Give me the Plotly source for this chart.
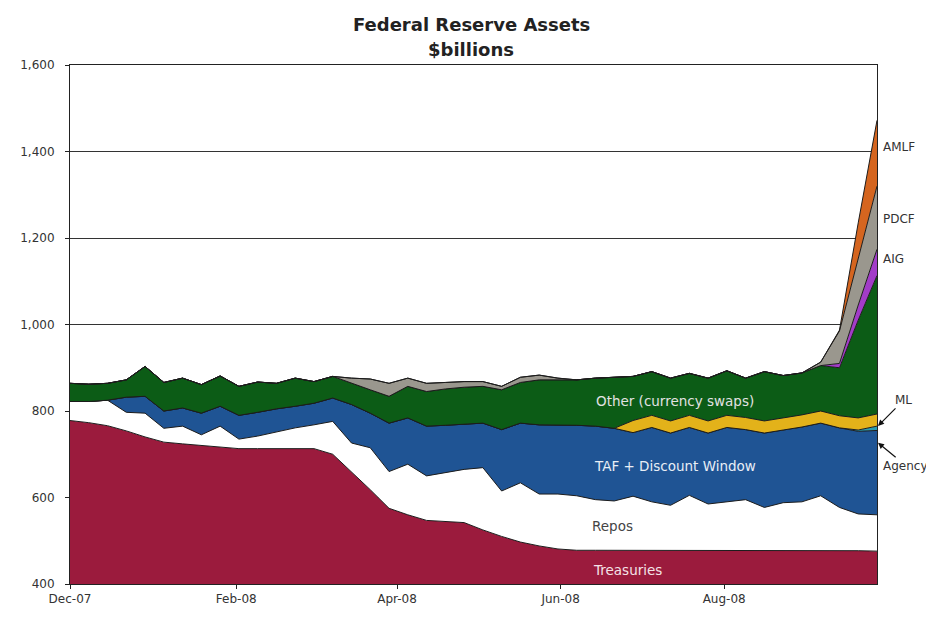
import pandas as pd
import plotly.graph_objects as go

# Weekly (Wednesday) dates, Dec 5 2007 - Oct 1 2008
dates = [d.strftime("%Y-%m-%d") for d in pd.date_range("2007-12-05", "2008-10-01", freq="7D")]

treasuries = [778, 773, 766, 754, 740, 728, 724, 720, 716, 713, 713, 713, 713, 713,
              700, 660, 618, 575, 560, 547, 545, 542, 525, 510, 497, 488, 481,
              478, 478, 478, 478, 478, 478, 478, 478, 478, 478, 478, 478, 478, 478, 478, 477, 476]
repos = [44, 49, 59, 43, 55, 32, 41, 25, 49, 22,
         29, 39, 48, 55, 76, 66, 97, 85, 117, 103,
         113, 123, 144, 105, 137, 120, 127, 126, 117, 114,
         125, 112, 104, 127, 107, 112, 117, 99, 110, 112,
         126, 99, 85, 84]
taf_dw = [0, 0, 0, 35, 39, 40, 42, 50, 46, 55,
          55, 53, 50, 50, 54, 89, 80, 112, 107, 115,
          109, 105, 103, 142, 138, 160, 160, 163, 170, 168,
          147, 172, 167, 157, 164, 172, 162, 172, 168, 173,
          168, 184, 191, 195]
agency = [0] * 42 + [3, 10]
ml = [0] * 30 + [28] * 14
other = [42, 40, 39, 40, 69, 66, 69, 66, 70, 67,
         70, 59, 65, 50, 50, 49, 54, 62, 73, 80,
         84, 85, 85, 92, 94, 104, 104, 105, 111, 118,
         102, 101, 99, 97, 99, 103, 91, 114, 98, 97,
         105, 111, 226, 320]
aig = [0] * 41 + [10, 35, 61]
pdcf = [0] * 15 + [12, 25, 30, 19, 19, 15, 13, 11, 8, 12, 11, 4] + [0] * 13 + [8, 75, 110, 146]
amlf = [0] * 41 + [2, 80, 152]

series = [
    ("Treasuries", treasuries, "#9B1B3D"),
    ("Repos", repos, "#FFFFFF"),
    ("TAF + Discount Window", taf_dw, "#1F5494"),
    ("Agency", agency, "#2A9DB0"),
    ("ML", ml, "#E3B21A"),
    ("Other (currency swaps)", other, "#0C5C16"),
    ("AIG", aig, "#A23CC8"),
    ("PDCF", pdcf, "#9A978E"),
    ("AMLF", amlf, "#D5651F"),
]

y_ticks = [400, 600, 800, 1000, 1200, 1400, 1600]
x_tickvals = ["2007-12-05", "2008-02-05", "2008-04-05", "2008-06-05", "2008-08-05"]
x_ticktext = ["Dec-07", "Feb-08", "Apr-08", "Jun-08", "Aug-08"]

fig = go.Figure()
for name, vals, col in series:
    fig.add_trace(go.Scatter(
        x=dates, y=vals, name=name, mode="lines", stackgroup="one",
        line=dict(width=1, color="#1c1c1c"), fillcolor=col, hoverinfo="skip"))

# page offset (body margin) compensation
OFF = 8
W, H = 934 - OFF, 618 - OFF
L, R, T, B = 68, 877, 65, 587  # plot area in screen px


def px(x):
    return (x - L) / (R - L)


def py(y):
    return (B - y) / (B - T)


font = "DejaVu Sans, Verdana, sans-serif"
ann = []
ann.append(dict(text="<b>Federal Reserve Assets</b>", x=px(470), y=py(24), xref="paper", yref="paper",
                xanchor="center", yanchor="middle", showarrow=False,
                font=dict(family=font, size=18, color="#222222")))
ann.append(dict(text="<b>$billions</b>", x=px(470), y=py(49), xref="paper", yref="paper",
                xanchor="center", yanchor="middle", showarrow=False,
                font=dict(family=font, size=18, color="#222222")))
inside = [
    ("Other (currency swaps)", 675, 403, "#E2E2E2"),
    ("TAF + Discount Window", 675, 468, "#E8EEF6"),
    ("Repos", 612, 529, "#444444"),
    ("Treasuries", 627, 573, "#F4E2E7"),
]
for t, x, y, c in inside:
    ann.append(dict(text=t, x=px(x), y=py(y), xref="paper", yref="paper",
                    xanchor="center", yanchor="middle",
                    showarrow=False, font=dict(family=font, size=13.5, color=c)))
for t, x, y in [("AMLF", 881, 147), ("PDCF", 881, 220), ("AIG", 881, 260)]:
    ann.append(dict(text=t, x=px(x), y=py(y), xref="paper", yref="paper",
                    xanchor="left", yanchor="middle",
                    showarrow=False, font=dict(family=font, size=12, color="#333333")))
ann.append(dict(text="ML", x=px(878), y=py(428), xref="paper", yref="paper",
                ax=26, ay=-26, showarrow=True, arrowhead=2, arrowsize=1, arrowwidth=1.2,
                arrowcolor="#111111", font=dict(family=font, size=12, color="#333333")))
ann.append(dict(text="Agency", x=px(878), y=py(445), xref="paper", yref="paper",
                ax=28, ay=23, showarrow=True, arrowhead=2, arrowsize=1, arrowwidth=1.2,
                arrowcolor="#111111", font=dict(family=font, size=12, color="#333333")))

fig.update_layout(
    width=W, height=H,
    margin=dict(l=L - OFF, r=W - (R - OFF), t=T - OFF, b=H - (B - OFF)),
    paper_bgcolor="white", plot_bgcolor="white",
    showlegend=False,
    annotations=ann,
    xaxis=dict(type="date", range=[dates[0], dates[-1]], tickvals=x_tickvals, ticktext=x_ticktext,
               showgrid=False, showline=True, linecolor="#222222", linewidth=1, mirror=True,
               ticks="outside", ticklen=4, tickcolor="#222222",
               tickfont=dict(family=font, size=12, color="#333333")),
    yaxis=dict(range=[400, 1600], tickvals=y_ticks, tickformat=",",
               showgrid=True, gridcolor="#333333", gridwidth=1,
               showline=True, linecolor="#222222", linewidth=1, mirror=True,
               ticks="outside", ticklen=4, tickcolor="#222222", ticklabelstandoff=8,
               tickfont=dict(family=font, size=12, color="#333333"), zeroline=False),
)

fig.write_html("out.html")
